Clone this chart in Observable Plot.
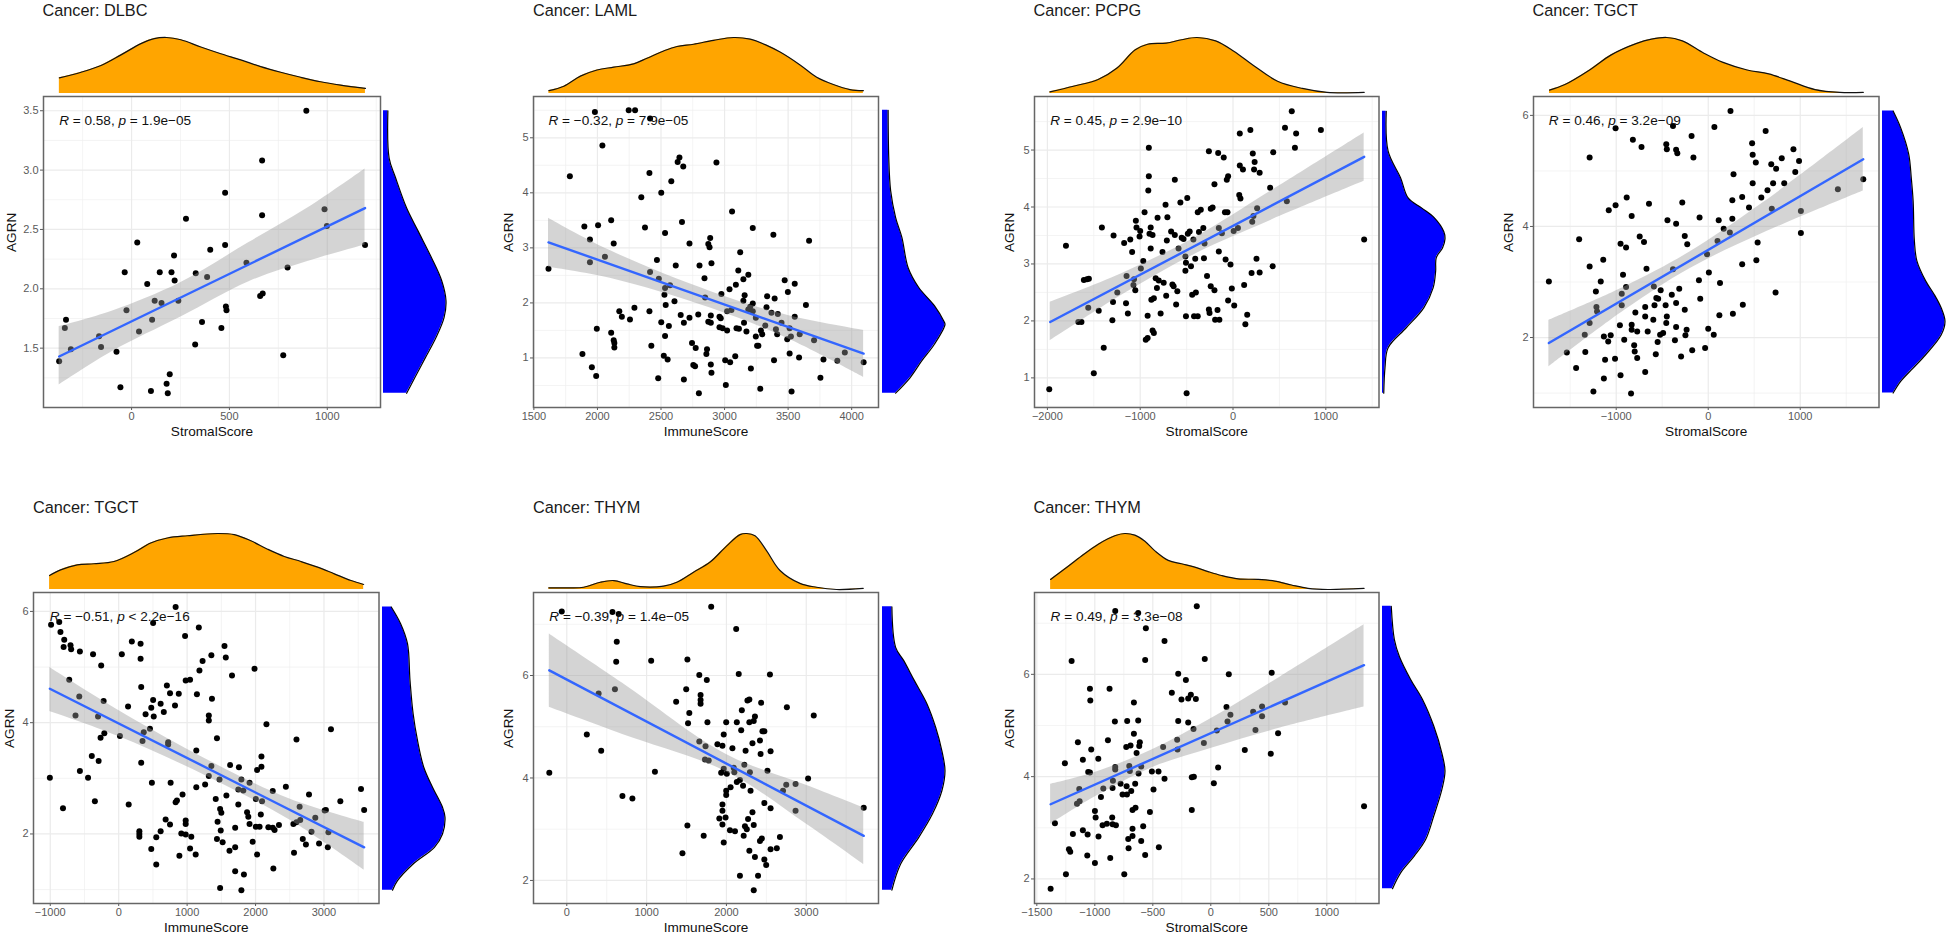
<!DOCTYPE html>
<html>
<head>
<meta charset="utf-8">
<script src="https://cdn.jsdelivr.net/npm/d3@7"></script>
<script src="https://cdn.jsdelivr.net/npm/@observablehq/plot@0.6"></script>
<style>
html,body{margin:0;padding:0;background:#fff;overflow:hidden}
#page{position:relative;width:1949px;height:937px;font-family:"Liberation Sans",Arial,sans-serif}
#page svg{position:absolute;overflow:visible;background:transparent;max-width:none}
.ttl{position:absolute;font-size:16.3px;line-height:20px;color:#1a1a1a;white-space:nowrap}
</style>
</head>
<body>
<div id="page"></div>
<script>
// ---------- DLBC / StromalScore ----------
const dlbcPoints=[[-370,1.39],[-341,1.67],[-335,1.74],[-310,1.49],[-166,1.6],[-156,1.51],[-77,1.47],[-57,1.17],[-35,2.14],[-26,1.82],[29,2.39],[38,1.64],[80,2.04],[99,1.14],[105,1.74],[118,1.9],[144,2.14],[153,1.88],[179,1.2],[185,1.12],[195,1.28],[204,2.14],[217,2.28],[220,2.07],[239,1.9],[278,2.59],[325,1.53],[328,2.13],[360,1.72],[386,2.1],[402,2.33],[459,1.67],[478,2.81],[478,2.37],[482,1.85],[485,1.82],[587,2.22],[657,1.94],[670,1.96],[667,2.62],[667,3.08],[775,1.44],[797,2.18],[893,3.5],[986,2.67],[998,2.53],[1193,2.37]];
const dlbcLine=[[-370,1.43],[1193,2.68]];
const dlbcBand=[[-370,1.19,1.68],[-100,1.47,1.81],[250,1.76,2.05],[600,2.06,2.39],[900,2.23,2.68],[1193,2.37,3.01]];
const dlbcTop=[[-369,.28],[-258,.38],[-156,.5],[-54,.69],[48,.89],[116,.98],[179,1],[252,.96],[354,.83],[456,.71],[558,.6],[660,.48],[762,.38],[864,.29],[966,.21],[1068,.15],[1195,.09]];
const dlbcRight=[[3.5,.07],[3.1,.09],[2.94,.19],[2.68,.37],[2.49,.55],[2.26,.77],[2.07,.93],[1.9,1],[1.76,.97],[1.59,.84],[1.42,.67],[1.25,.5],[1.12,.37]];

// ---------- LAML / ImmuneScore ----------
const lamlPoints=[[1615,2.62],[1783,4.3],[1882,1.07],[1897,3.39],[1941,3.15],[1941,2.74],[1956,.83],[1980,5.47],[1990,.67],[1995,1.53],[2005,3.41],[2039,4.86],[2059,2.84],[2108,1.46],[2108,3.5],[2128,1.32],[2128,3.08],[2133,1.27],[2133,1.19],[2172,1.85],[2192,1.75],[2256,1.7],[2246,5.5],[2296,5.5],[2291,1.91],[2345,3.92],[2374,3.37],[2409,4.36],[2414,5.35],[2414,2.56],[2409,1.85],[2424,1.22],[2468,2.78],[2483,2.44],[2478,.63],[2502,4],[2502,1.65],[2522,1.04],[2527,2.15],[2532,2.27],[2532,3.27],[2537,1.96],[2532,1.4],[2552,.97],[2562,1.58],[2571,2.32],[2581,4.21],[2606,2.03],[2616,2.68],[2631,4.56],[2645,4.64],[2655,1.78],[2665,3.47],[2675,4.48],[2680,.61],[2680,1.64],[2724,3.08],[2724,1.73],[2744,1.27],[2754,.87],[2768,.85],[2773,1.18],[2798,.36],[2793,1.79],[2803,2.68],[2842,2.45],[2862,1.16],[2857,1.07],[2847,2.1],[2872,1.66],[2892,1.64],[2872,3.07],[2882,3.01],[2887,3.18],[2897,2.72],[2892,1.77],[2892,.88],[2897,.73],[2936,4.55],[2960,1.75],[2970,1.72],[2960,1.56],[2975,2.16],[2985,1.54],[3005,.96],[3010,.51],[3020,1.5],[3020,1.85],[3039,2.25],[3044,.92],[3054,1.87],[3059,3.66],[3084,1.03],[3089,2.33],[3094,1.54],[3113,1.53],[3123,2.92],[3108,2.59],[3148,2.04],[3148,2.43],[3153,1.64],[3158,2.14],[3172,1.48],[3187,2.51],[3187,1.88],[3202,1.93],[3207,.81],[3222,3.36],[3222,1.99],[3222,1.85],[3246,1.39],[3246,1.73],[3256,1.22],[3266,1.22],[3281,.44],[3286,1.5],[3296,1.43],[3320,1.59],[3330,1.92],[3335,2.12],[3369,1.82],[3389,.96],[3384,3.24],[3394,2.08],[3404,1.52],[3414,1.43],[3419,1.8],[3448,1.64],[3473,2.41],[3493,1.34],[3498,2.2],[3512,1.08],[3512,1.54],[3522,1.39],[3527,.39],[3552,2.35],[3552,1.75],[3586,1.01],[3591,1.43],[3640,1.96],[3665,3.13],[3704,1.32],[3754,.64],[3778,.97],[3887,.95],[3946,1.1],[4094,.92]];
const lamlLine=[[1615,3.1],[4094,1.08]];
const lamlBand=[[1615,2.65,3.54],[2100,2.45,2.95],[2900,1.9,2.2],[3500,1.35,1.77],[4094,.65,1.5]];
const lamlTop=[[1618,.05],[1736,.13],[1866,.31],[1997,.42],[2128,.47],[2285,.53],[2390,.63],[2521,.76],[2626,.84],[2757,.88],[2914,.95],[3071,1],[3202,.97],[3332,.86],[3437,.74],[3594,.51],[3725,.29],[3856,.16],[3987,.07],[4092,.05]];
const lamlRight=[[5.5,.09],[4.64,.1],[4.04,.13],[3.55,.21],[3.19,.31],[2.64,.41],[2.28,.58],[1.95,.83],[1.67,.98],[1.61,1],[1.25,.83],[.95,.63],[.64,.44],[.36,.21]];

// ---------- PCPG / StromalScore ----------
const pcpgPoints=[[-1980,.8],[-1800,3.32],[-1607,2.72],[-1573,2.73],[-1553,2.74],[-1560,2.23],[-1667,1.98],[-1633,1.98],[-1500,1.08],[-1447,2.18],[-1413,3.64],[-1393,1.53],[-1300,2.01],[-1293,2.33],[-1287,3.5],[-1247,2.5],[-1173,3.37],[-1153,2.31],[-1147,2.79],[-1133,2.13],[-1107,3.43],[-1087,3.21],[-1073,2.63],[-1067,2.73],[-1053,2.54],[-1047,3.76],[-1040,3.64],[-1000,3.58],[-1007,3.48],[-993,2.92],[-967,3.05],[-953,3.91],[-940,1.67],[-920,1.7],[-920,2.09],[-907,4.54],[-907,5.04],[-913,4.29],[-900,3.53],[-887,3.27],[-880,2.37],[-867,3.51],[-853,2.4],[-853,1.79],[-867,1.83],[-887,3.64],[-833,2.75],[-813,3.81],[-820,2.58],[-800,2.71],[-780,2.13],[-760,3.21],[-747,2.67],[-727,4.04],[-720,2.44],[-713,3.41],[-707,3.82],[-667,3.57],[-653,2.64],[-627,3.51],[-613,2.29],[-627,4.48],[-640,2.61],[-600,2.52],[-567,4.08],[-587,3.27],[-553,3.46],[-533,3.44],[-513,3.13],[-507,3.02],[-507,2.08],[-500,.73],[-493,4.16],[-513,2.88],[-487,3.53],[-467,3.57],[-453,2.96],[-440,2.46],[-420,2.08],[-427,3.43],[-407,3.09],[-400,2.5],[-380,2.08],[-380,3.91],[-367,3.56],[-347,3.95],[-320,3.63],[-313,3.1],[-307,3.36],[-280,2.79],[-260,4.98],[-260,2.2],[-253,2.14],[-240,2.61],[-240,3.97],[-220,3.99],[-200,4.4],[-200,2.54],[-193,2.02],[-167,2.19],[-153,3.22],[-160,4.95],[-153,3.63],[-147,2.02],[-100,4.87],[-120,3.54],[-87,3.91],[-60,3.91],[-67,4.48],[-53,4.54],[-80,3.08],[-53,2.36],[-27,2.99],[-13,2.57],[13,2.27],[7,3.58],[53,3.63],[73,5.29],[67,4.21],[80,4.15],[73,4.73],[107,4.66],[120,2.63],[153,2.11],[133,1.94],[187,5.35],[200,2.84],[213,4.94],[207,3.74],[220,3.84],[233,4.79],[227,4.66],[260,3.98],[253,3.09],[287,4.6],[287,2.85],[400,4.34],[427,2.96],[433,4.96],[560,5.39],[580,4.1],[633,5.68],[667,5.04],[680,5.29],[947,5.35],[1413,3.43]];
const pcpgLine=[[-1970,1.98],[1413,4.88]];
const pcpgBand=[[-1970,1.65,2.33],[-1200,2.45,2.83],[-400,3.18,3.47],[400,3.76,4.27],[1413,4.45,5.3]];
const pcpgTop=[[-1973,.03],[-1720,.13],[-1453,.25],[-1253,.45],[-1053,.78],[-920,.88],[-720,.9],[-553,.96],[-387,1],[-187,.94],[13,.75],[213,.51],[480,.22],[747,.09],[1013,.02],[1413,.02]];
const pcpgRight=[[5.68,.06],[4.98,.09],[4.51,.29],[4.16,.41],[3.98,.63],[3.81,.83],[3.57,.98],[3.44,1],[3.28,.96],[3.11,.86],[2.87,.85],[2.58,.81],[2.23,.66],[1.88,.38],[1.53,.09],[1.18,.04],[.73,.02]];

// ---------- TGCT / StromalScore ----------
const tgctStromalPoints=[[-1732,3.01],[-1537,1.73],[-1436,1.45],[-1403,3.77],[-1342,2.05],[-1336,1.74],[-1289,5.24],[-1289,3.28],[-1289,2.26],[-1248,1.03],[-1221,2.83],[-1215,2.55],[-1208,2.47],[-1168,3.01],[-1141,3.4],[-1134,2.02],[-1134,1.26],[-1087,1.93],[-1121,1.6],[-1060,2.04],[-1081,4.29],[-1007,4.38],[-1007,5.77],[-1013,1.62],[-960,2.22],[-953,3.69],[-953,1.32],[-940,2.79],[-940,2.58],[-926,3.13],[-913,1.96],[-893,3.62],[-893,2.91],[-886,4.52],[-839,.99],[-832,4.19],[-832,2.23],[-819,5.56],[-832,2.14],[-805,1.86],[-799,1.75],[-792,2.45],[-772,1.63],[-772,2.11],[-745,3.82],[-725,5.43],[-685,1.38],[-698,3.72],[-685,2.38],[-685,2.55],[-671,3.24],[-644,4.41],[-658,2.11],[-597,2.32],[-591,2.92],[-584,2.58],[-570,1.7],[-550,1.92],[-564,2.71],[-544,2.7],[-523,2.05],[-517,2.85],[-490,2.08],[-463,2.58],[-456,5.48],[-450,2.38],[-450,5.39],[-443,4.11],[-456,2.26],[-396,2.77],[-383,3.23],[-383,5.81],[-349,4.05],[-349,2.62],[-349,2.19],[-362,1.95],[-349,5.38],[-336,5.32],[-295,1.66],[-315,2.88],[-282,4.43],[-255,3.83],[-248,2.04],[-228,3.68],[-255,2.5],[-235,2.14],[-181,5.63],[-161,5.24],[-174,1.77],[-94,4.16],[-101,3.03],[-87,2.7],[-34,1.81],[-13,3.5],[7,3.17],[0,2.16],[67,5.79],[60,2.05],[114,4.11],[101,3.74],[128,2.98],[121,2.4],[168,3.96],[235,3.89],[242,6.08],[262,4.47],[262,4.14],[268,2.43],[275,4.94],[369,4.53],[376,2.59],[369,3.32],[443,4.34],[477,5.5],[483,5.29],[483,4.78],[517,5.15],[537,3.71],[523,3.39],[577,4.52],[624,5.72],[644,4.65],[685,5.12],[705,4.78],[691,4.32],[732,2.81],[738,5.04],[799,5.23],[826,4.78],[926,5.39],[946,4.98],[987,5.18],[1007,4.28],[1007,3.88],[1409,4.67],[1685,4.85]];
const tgctStromalLine=[[-1732,1.9],[1685,5.21]];
const tgctStromalBand=[[-1732,1.47,2.31],[-900,2.5,2.92],[-200,3.24,3.54],[600,3.88,4.43],[1685,4.64,5.78]];
const tgctStromalTop=[[-1725,.06],[-1557,.16],[-1289,.42],[-1054,.69],[-785,.89],[-617,.97],[-450,1],[-282,.94],[-47,.72],[154,.56],[423,.42],[658,.35],[893,.22],[1161,.07],[1430,.02],[1685,.02]];
const tgctStromalRight=[[6.08,.17],[5.78,.29],[5.3,.42],[4.88,.46],[4.46,.49],[3.74,.51],[3.38,.55],[3.02,.69],[2.77,.83],[2.53,.94],[2.29,1],[2.05,.94],[1.69,.69],[1.45,.49],[1.21,.29],[1,.17]];

// ---------- TGCT / ImmuneScore ----------
const tgctImmunePoints=[[-1006,3.01],[-988,5.76],[-869,5.81],[-851,5.63],[-814,2.46],[-796,5.49],[-805,5.36],[-704,5.39],[-695,5.32],[-723,4.77],[-567,5.28],[-567,3.13],[-631,4.13],[-576,4.47],[-448,3.01],[-393,3.4],[-375,5.23],[-348,2.59],[-302,4.11],[-293,3.31],[-265,3.73],[-256,5.03],[-220,4.39],[-210,3.81],[18,3.76],[46,5.23],[146,2.53],[137,4.29],[192,5.46],[302,2.05],[302,2],[302,1.95],[320,5.42],[320,5.15],[329,4.64],[329,3.28],[348,3.67],[366,3.83],[393,4.15],[457,3.89],[476,4.27],[485,2.92],[476,1.73],[503,4.41],[503,5.79],[512,4.11],[549,1.45],[549,1.94],[613,2.05],[613,4.34],[659,4.19],[686,2.26],[704,4.67],[723,3.65],[723,3.61],[750,4.53],[759,2.92],[750,2.17],[823,4.31],[832,6.08],[832,2.57],[851,2.6],[878,4.52],[887,1.61],[915,2.01],[933,2.71],[970,5.56],[979,4.76],[979,2.24],[979,2.18],[979,1.99],[1043,4.77],[1043,1.74],[1061,1.95],[1125,1.63],[1134,3.5],[1143,4.51],[1134,2.84],[1171,5.71],[1180,4.94],[1226,5.11],[1263,2.89],[1317,3.04],[1317,4.13],[1317,4.04],[1354,5.21],[1354,3.22],[1363,4.43],[1418,2.63],[1436,3.72],[1436,1.91],[1445,2.22],[1473,2.98],[1482,1.03],[1500,2.38],[1491,2.06],[1482,2.45],[1519,1.85],[1546,5.38],[1565,5.17],[1574,2.69],[1619,1.7],[1628,3.24],[1702,1.76],[1702,1.33],[1702,2.11],[1656,4.85],[1748,2.53],[1757,3.2],[1793,2.98],[1748,2.8],[1821,2.78],[1830,1.27],[1793,.99],[1876,2.39],[1894,2.31],[1912,2.92],[1912,2.18],[1958,1.86],[1985,4.97],[2004,2.63],[2004,2.13],[2022,3.15],[2022,1.63],[2059,2.13],[2086,3.21],[2086,3.39],[2077,2.35],[2095,2.59],[2159,3.97],[2187,2.12],[2251,2.11],[2260,1.38],[2251,2.77],[2278,2.07],[2342,2.16],[2443,2.85],[2553,2.18],[2562,1.66],[2598,3.7],[2598,2.21],[2644,2.49],[2653,2.25],[2690,1.91],[2736,1.81],[2781,2.71],[2818,2.04],[2873,2.29],[2928,1.83],[3010,2.42],[3028,2.43],[3065,2.03],[3056,1.76],[3102,3.88],[3239,2.59],[3541,2.81],[3587,2.43]];
const tgctImmuneLine=[[-1006,4.61],[3587,1.76]];
const tgctImmuneBand=[[-1006,4.2,4.99],[0,3.75,4.22],[1300,3.03,3.33],[2500,2.25,2.63],[3587,1.35,2.21]];
const tgctImmuneTop=[[-1010,.25],[-849,.35],[-605,.44],[-361,.46],[-68,.5],[224,.66],[468,.83],[712,.92],[1005,.96],[1444,1],[1688,.98],[1932,.87],[2176,.72],[2420,.59],[2663,.5],[2907,.4],[3151,.28],[3395,.16],[3580,.09]];
const tgctImmuneRight=[[6.08,.14],[5.78,.29],[5.42,.4],[4.76,.44],[4.16,.49],[3.68,.56],[3.2,.66],[2.84,.8],[2.48,.96],[2.3,1],[2,.96],[1.76,.83],[1.46,.49],[1.16,.24],[.99,.16]];

// ---------- THYM / ImmuneScore ----------
const thymImmunePoints=[[-219,4.1],[-63,7.25],[251,4.85],[399,5.65],[431,4.53],[572,7.24],[603,5.73],[619,6.27],[626,6.66],[650,7.2],[697,3.65],[822,3.6],[1057,6.29],[1104,4.12],[1370,5.49],[1449,2.53],[1496,5.73],[1511,6.31],[1511,3.07],[1519,5.07],[1535,5.27],[1660,6.01],[1676,5.62],[1676,5.52],[1676,5.45],[1660,4.71],[1715,2.87],[1738,4.62],[1731,4.36],[1778,4.34],[1754,5.91],[1762,5.09],[1809,7.34],[1887,4.66],[1911,3.21],[1950,3.09],[1950,4.63],[1966,2.74],[1934,4.1],[1966,4.85],[1950,3.36],[1950,3.48],[1966,4.18],[1989,3.23],[1997,5.09],[2005,4.08],[1997,3.75],[1997,3.67],[2052,3.82],[2044,2.98],[2075,4.58],[2099,4.11],[2091,4.2],[2107,2.96],[2122,6.91],[2130,3.92],[2130,5.09],[2154,6.03],[2169,2.09],[2169,3.96],[2193,5.32],[2185,4.93],[2224,4.26],[2216,2.87],[2208,3.85],[2232,3.06],[2255,3],[2240,4.53],[2263,5.51],[2287,5.53],[2294,4.11],[2271,3.2],[2287,5.09],[2302,3.75],[2287,2.58],[2326,3.33],[2326,4.68],[2342,1.81],[2357,2.46],[2357,5.2],[2342,5.11],[2342,3.08],[2396,2.09],[2420,2.77],[2443,2.82],[2435,5.47],[2428,4.47],[2451,4.91],[2420,4.73],[2475,4.91],[2475,3.51],[2475,2.41],[2498,2.3],[2514,4.14],[2545,6.02],[2553,4.52],[2553,3.41],[2553,2.61],[2631,2.63],[2670,2.85],[2709,3.75],[2749,3.87],[2757,5.38],[2866,3.88],[2866,3.36],[3023,3.99],[3094,5.22],[3720,3.42]];
const thymImmuneLine=[[-219,6.1],[3720,2.87]];
const thymImmuneBand=[[-219,5.38,6.81],[700,4.85,5.85],[2000,4.12,4.46],[3000,3.1,3.86],[3720,2.31,3.42]];
const thymImmuneTop=[[-225,.03],[4,.03],[213,.04],[421,.13],[588,.16],[754,.1],[921,.05],[1213,.06],[1379,.13],[1588,.31],[1796,.49],[2004,.78],[2171,.98],[2254,1],[2358,.96],[2504,.69],[2671,.34],[2921,.11],[3129,.04],[3379,0],[3713,.02]];
const thymImmuneRight=[[7.34,.15],[6.55,.21],[6.29,.34],[5.9,.51],[5.45,.71],[4.99,.85],[4.53,.95],[4.14,1],[3.75,.95],[3.3,.8],[2.84,.58],[2.32,.29],[1.81,.15]];

// ---------- THYM / StromalScore ----------
const thymStromalPoints=[[-1381,1.81],[-1344,3.09],[-1258,4.26],[-1249,2.09],[-1223,2.58],[-1212,2.53],[-1200,6.26],[-1189,2.88],[-1154,3.47],[-1131,3.52],[-1134,3.76],[-1146,4.67],[-1103,4.33],[-1103,2.95],[-1065,2.46],[-1062,2.87],[-1057,4.09],[-1042,4.08],[-1042,5.72],[-1039,5.49],[-1031,4.53],[-999,2.31],[-999,3.33],[-993,3.2],[-970,4.35],[-968,2.83],[-947,3.6],[-933,3.05],[-927,3.77],[-896,3.08],[-887,4.71],[-873,5.72],[-867,2.41],[-850,3.2],[-847,3.07],[-847,3.78],[-844,3.92],[-827,5.08],[-824,4.14],[-824,4.19],[-818,3.05],[-824,7.24],[-778,3.86],[-761,3.65],[-746,2.09],[-726,3.81],[-723,3.65],[-729,4.58],[-721,5.09],[-709,2.6],[-712,2.78],[-703,4.21],[-698,4.11],[-692,4.61],[-686,3.72],[-675,2.98],[-675,2.84],[-675,3.35],[-663,4.84],[-663,5.45],[-652,3.86],[-649,3.39],[-640,4.46],[-626,7.2],[-626,5.1],[-623,4.06],[-617,4.6],[-612,4.67],[-600,2.74],[-600,4.2],[-583,3.03],[-566,6.28],[-566,2.47],[-560,6.9],[-525,3.31],[-508,4.1],[-494,3.75],[-448,2.62],[-451,4.1],[-411,4.58],[-399,3.96],[-399,6.65],[-336,5.64],[-287,4.53],[-281,6.01],[-281,5.09],[-290,4.72],[-253,5.51],[-215,5.89],[-195,5.53],[-195,5.06],[-172,5.6],[-164,3.35],[-164,3.99],[-146,4],[-149,4.93],[-129,5.52],[-121,7.33],[-60,4.66],[-52,6.3],[26,3.87],[52,4.9],[63,4.18],[135,5.36],[144,5.08],[155,6],[169,5.21],[293,4.52],[365,5.27],[385,4.91],[442,5.37],[442,5.18],[517,4.45],[525,6.03],[580,4.85],[640,5.45],[1321,3.42]];
const thymStromalLine=[[-1381,3.46],[1321,6.18]];
const thymStromalBand=[[-1381,3.07,3.85],[-1000,3.6,4.08],[-500,4.18,4.53],[0,4.55,5.13],[600,4.95,5.95],[1321,5.36,6.97]];
const thymStromalTop=[[-1381,.18],[-1258,.37],[-1114,.6],[-970,.81],[-827,.96],[-741,1],[-655,.97],[-568,.86],[-482,.69],[-367,.52],[-253,.46],[-138,.4],[-23,.32],[92,.25],[235,.19],[408,.18],[551,.15],[695,.08],[838,.02],[1011,0],[1321,.02]];
const thymStromalRight=[[7.33,.14],[6.68,.19],[6.35,.27],[5.9,.45],[5.51,.64],[4.99,.82],[4.46,.95],[4.11,1],[3.75,.95],[3.23,.82],[2.77,.69],[2.45,.51],[2.12,.29],[1.81,.16]];

const titles=["Cancer: DLBC","Cancer: LAML","Cancer: PCPG","Cancer: TGCT","Cancer: TGCT","Cancer: THYM","Cancer: THYM"];
const xLabels=["StromalScore","ImmuneScore","StromalScore","StromalScore","ImmuneScore","ImmuneScore","StromalScore"];
const rValues=["0.58","−0.32","0.45","0.46","−0.51","−0.39","0.49"];
const pValues=["= 1.9e−05","= 7.9e−05","= 2.9e−10","= 3.2e−09","< 2.2e−16","= 1.4e−05","= 3.3e−08"];
const xTicks=[[0,500,1000],[1500,2000,2500,3000,3500,4000],[-2000,-1000,0,1000],[-1000,0,1000],[-1000,0,1000,2000,3000],[0,1000,2000,3000],[-1500,-1000,-500,0,500,1000]];
const yTicks=[[1.5,2,2.5,3,3.5],[1,2,3,4,5],[1,2,3,4,5],[2,4,6],[2,4,6],[2,4,6],[2,4,6]];

const series=[
 {pts:dlbcPoints,line:dlbcLine,band:dlbcBand,top:dlbcTop,right:dlbcRight},
 {pts:lamlPoints,line:lamlLine,band:lamlBand,top:lamlTop,right:lamlRight},
 {pts:pcpgPoints,line:pcpgLine,band:pcpgBand,top:pcpgTop,right:pcpgRight},
 {pts:tgctStromalPoints,line:tgctStromalLine,band:tgctStromalBand,top:tgctStromalTop,right:tgctStromalRight},
 {pts:tgctImmunePoints,line:tgctImmuneLine,band:tgctImmuneBand,top:tgctImmuneTop,right:tgctImmuneRight},
 {pts:thymImmunePoints,line:thymImmuneLine,band:thymImmuneBand,top:thymImmuneTop,right:thymImmuneRight},
 {pts:thymStromalPoints,line:thymStromalLine,band:thymStromalBand,top:thymStromalTop,right:thymStromalRight}
];
// scale domains of each panel
const xDomains=[[-450,1272],[1497,4211],[-2139,1573],[-1899,1856],[-1245,3804],[-417,3905],[-1520,1450]];
const yDomains=[[1,3.62],[.1,5.75],[.48,5.94],[.74,6.34],[.75,6.34],[1.55,7.62],[1.52,7.6]];

// page layout: frame boxes [left,right,top,bottom], y-label offset
const boxes=[[42.5,379.5,95.5,406.5,31.5],[533,878,95.5,406.5,25],[1033.5,1378,95.5,406.5,25],[1532.5,1878,95.5,406.5,25],[33,378.5,592,903,24],[533,878,592,903,25],[1033.5,1378,592,903,25]];

const page=document.getElementById("page");
const font='"Liberation Sans",Arial,sans-serif';
function minors(t,dom){
  const s=t[1]-t[0],o=[];
  for(let v=t[0]-s/2;v<=t[t.length-1]+s;v+=s) if(v>=dom[0]&&v<=dom[1]) o.push(v);
  return o;
}
function place(svg,l,t){svg.style.left=l+"px";svg.style.top=t+"px";page.appendChild(svg);}

series.forEach((s,i)=>{
  const [L,R,T,B,yOff]=boxes[i];
  const ml=Math.min(L,40),mr=2,mt=2,mb=52;
  const fw=R-L,fh=B-T;
  const xd=xDomains[i],yd=yDomains[i];
  const yFmt=i===0?d3.format(".1f"):d3.format(".0f");

  const title=document.createElement("div");
  title.className="ttl";title.textContent=titles[i];
  title.style.left=L+"px";title.style.top=(T-95.5)+"px";
  page.appendChild(title);

  const main=Plot.plot({
    width:fw+ml+mr,height:fh+mt+mb,marginLeft:ml,marginRight:mr,marginTop:mt,marginBottom:mb,
    style:{fontFamily:font,background:"transparent"},
    x:{domain:xd},y:{domain:yd},
    marks:[
      Plot.ruleX(minors(xTicks[i],xd),{stroke:"#efefef",strokeWidth:.7}),
      Plot.ruleY(minors(yTicks[i],yd),{stroke:"#efefef",strokeWidth:.7}),
      Plot.ruleX(xTicks[i].filter(v=>v>=xd[0]),{stroke:"#ebebeb",strokeWidth:1.2}),
      Plot.ruleY(yTicks[i],{stroke:"#ebebeb",strokeWidth:1.2}),
      Plot.dot(s.pts,{x:d=>d[0],y:d=>d[1],r:3,fill:"#000",stroke:"none"}),
      Plot.areaY(s.band,{x:d=>d[0],y1:d=>d[1],y2:d=>d[2],fill:"#999",fillOpacity:.42,curve:"catmull-rom"}),
      Plot.line(s.line,{x:d=>d[0],y:d=>d[1],stroke:"#3366FF",strokeWidth:2.4}),
      Plot.axisX({ticks:xTicks[i],tickFormat:d3.format(".0f"),label:null,tickSize:3,tickPadding:2,fontSize:11,color:"#5a5a5a"}),
      Plot.axisY({ticks:yTicks[i],tickFormat:yFmt,label:null,tickSize:3,tickPadding:2,fontSize:11,color:"#5a5a5a"}),
      Plot.text([xLabels[i]],{frameAnchor:"bottom",lineAnchor:"middle",dy:24.5,fontSize:13.6,fill:"#111"}),
      Plot.text(["AGRN"],{frameAnchor:"left",dx:-yOff,rotate:-90,fontSize:13.6,fill:"#111"}),
      Plot.text([`R = ${rValues[i]}, p ${pValues[i]}`],{x:()=>s.line[0][0],frameAnchor:"top",lineAnchor:"middle",dy:24.5,textAnchor:"start",fontSize:13.6,fill:"#111",className:"annot"}),
      Plot.frame({stroke:"#666",strokeWidth:1.5})
    ]
  });
  // italicise R and p in the annotation
  d3.select(main).selectAll(".annot text").each(function(){
    const t=d3.select(this);
    t.text(null);
    t.append("tspan").attr("font-style","italic").text("R");
    t.append("tspan").text(` = ${rValues[i]}, `);
    t.append("tspan").attr("font-style","italic").text("p");
    t.append("tspan").text(" "+pValues[i]);
  });
  place(main,L-ml,T-mt);

  const topH=58;
  const top=Plot.plot({
    width:fw+ml+mr,height:topH,marginLeft:ml,marginRight:mr,marginTop:2,marginBottom:0,
    style:{background:"transparent"},
    x:{domain:xd,axis:null},y:{domain:[0,1],axis:null},
    marks:[
      Plot.areaY(s.top,{x:d=>d[0],y:d=>d[1],fill:"#FFA500",curve:"catmull-rom"}),
      Plot.line(s.top,{x:d=>d[0],y:d=>d[1],stroke:"#111",strokeWidth:1.2,curve:"catmull-rom"})
    ]
  });
  place(top,L-ml,T-3-topH);

  const right=Plot.plot({
    width:64.5,height:fh+mt+mb,marginLeft:0,marginRight:2,marginTop:mt,marginBottom:mb,
    style:{background:"transparent"},
    x:{domain:[0,1],axis:null},y:{domain:yd,axis:null},
    marks:[
      Plot.areaX(s.right,{x:d=>d[1],y:d=>d[0],fill:"#0000FF",curve:"catmull-rom"}),
      Plot.line(s.right,{x:d=>d[1],y:d=>d[0],stroke:"#000",strokeWidth:1.2,curve:"catmull-rom"})
    ]
  });
  place(right,R+3.7,T-mt);
});
</script>
</body>
</html>
